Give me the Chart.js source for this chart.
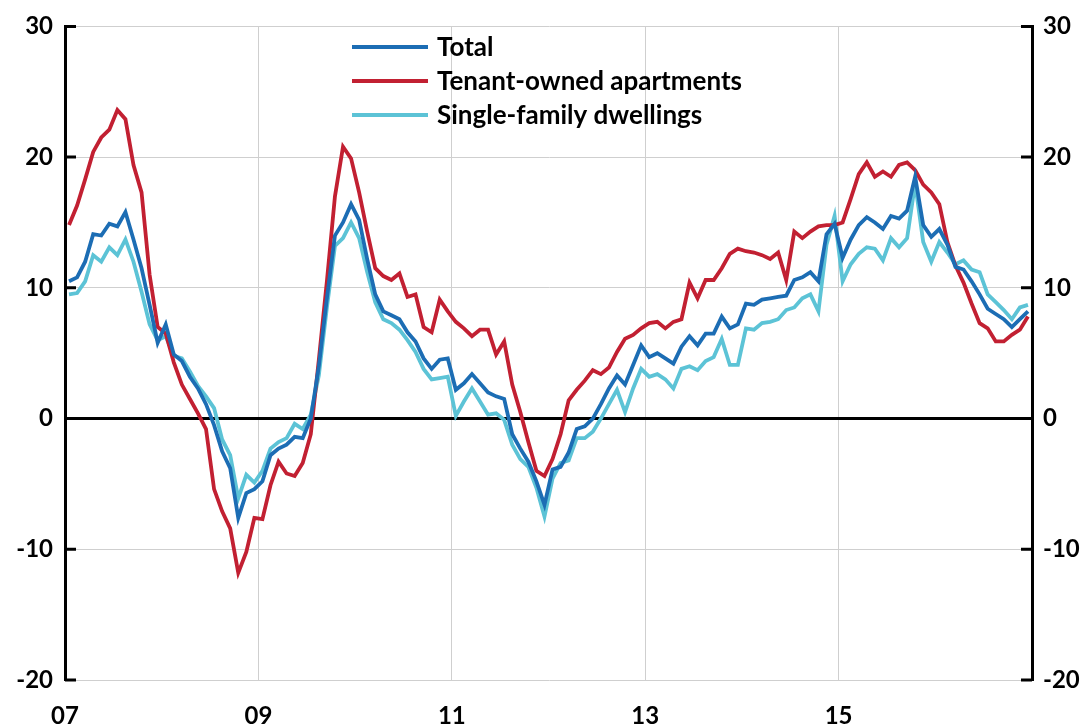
<!DOCTYPE html>
<html>
<head>
<meta charset="utf-8">
<script src="https://cdn.jsdelivr.net/npm/chart.js@4"></script>
<style>
  html, body { margin: 0; padding: 0; background: #fff; }
  #wrap { width: 1084px; height: 728px; }
</style>
</head>
<body>
<div id="wrap"><canvas id="chart" width="1084" height="728"></canvas></div>
<script>
// x-axis tick labels (every second year, Jan 2007 - Dec 2016 monthly data)
const tickLabels = ["07", "09", "11", "13", "15"];
const seriesNames = ["Total", "Tenant-owned apartments", "Single-family dwellings"];

// monthly values, one row per year
const total = [
    10.5, 10.8, 12.0, 14.1, 14.0, 14.9, 14.7, 15.8, 13.7, 11.5, 8.7, 5.8,
    7.2, 4.9, 4.4, 3.2, 2.3, 1.1, -0.5, -2.5, -3.8, -7.6, -5.7, -5.4,
    -4.8, -2.8, -2.3, -2.0, -1.4, -1.5, 0.0, 4.0, 9.2, 14.0, 15.0, 16.4,
    15.2, 12.2, 9.5, 8.2, 7.9, 7.6, 6.6, 5.9, 4.6, 3.8, 4.5, 4.6,
    2.2, 2.7, 3.4, 2.7, 2.0, 1.7, 1.5, -1.2, -2.3, -3.3, -4.8, -6.6,
    -3.9, -3.7, -2.6, -0.8, -0.6, 0.0, 1.1, 2.3, 3.3, 2.6, 4.1, 5.6,
    4.7, 5.0, 4.6, 4.2, 5.5, 6.3, 5.6, 6.5, 6.5, 7.8, 6.9, 7.2,
    8.8, 8.7, 9.1, 9.2, 9.3, 9.4, 10.6, 10.8, 11.2, 10.5, 14.1, 14.9,
    12.3, 13.7, 14.8, 15.4, 15.0, 14.5, 15.5, 15.3, 15.9, 18.5, 14.8, 13.9,
    14.5, 13.3, 11.6, 11.4, 10.5, 9.5, 8.4, 8.0, 7.6, 7.0, 7.6, 8.2
];
const tenantOwned = [
    14.8, 16.3, 18.3, 20.4, 21.5, 22.1, 23.6, 22.9, 19.4, 17.3, 11.0, 7.0,
    6.5, 4.3, 2.6, 1.5, 0.4, -0.8, -5.4, -7.1, -8.4, -11.8, -10.2, -7.6,
    -7.7, -5.1, -3.3, -4.2, -4.4, -3.4, -1.2, 4.5, 10.5, 17.0, 20.8, 19.9,
    17.3, 14.3, 11.5, 10.9, 10.6, 11.1, 9.3, 9.5, 7.0, 6.6, 9.1, 8.2,
    7.4, 6.9, 6.3, 6.8, 6.8, 4.9, 5.9, 2.6, 0.5, -1.8, -4.0, -4.4,
    -3.1, -1.2, 1.4, 2.2, 2.9, 3.7, 3.4, 3.9, 5.1, 6.1, 6.4, 6.9,
    7.3, 7.4, 6.9, 7.4, 7.6, 10.4, 9.2, 10.6, 10.6, 11.5, 12.6, 13.0,
    12.8, 12.7, 12.5, 12.2, 12.7, 10.6, 14.3, 13.8, 14.3, 14.7, 14.8, 14.8,
    15.0, 16.8, 18.7, 19.6, 18.5, 18.9, 18.5, 19.4, 19.6, 19.0, 17.9, 17.3,
    16.4, 13.5, 11.7, 10.4, 8.8, 7.3, 6.9, 5.9, 5.9, 6.4, 6.8, 7.8
];
const singleFamily = [
    9.5, 9.6, 10.5, 12.5, 12.0, 13.1, 12.5, 13.7, 12.0, 9.7, 7.2, 6.0,
    6.3, 4.8, 4.6, 3.6, 2.5, 1.7, 0.8, -1.6, -2.8, -6.1, -4.3, -4.9,
    -4.0, -2.3, -1.8, -1.5, -0.4, -0.8, 0.3, 3.3, 8.5, 13.2, 13.8, 15.0,
    13.8, 11.2, 8.9, 7.6, 7.3, 6.8, 6.0, 5.1, 3.8, 3.0, 3.1, 3.2,
    0.2, 1.3, 2.3, 1.3, 0.3, 0.4, -0.1, -2.0, -3.1, -3.7, -5.3, -7.5,
    -4.6, -3.4, -3.2, -1.5, -1.5, -1.0, 0.0, 1.1, 2.2, 0.5, 2.3, 3.8,
    3.2, 3.4, 3.0, 2.3, 3.8, 4.0, 3.7, 4.4, 4.7, 6.1, 4.1, 4.1,
    6.9, 6.8, 7.3, 7.4, 7.6, 8.3, 8.5, 9.2, 9.5, 8.2, 13.3, 15.5,
    10.5, 11.8, 12.6, 13.1, 13.0, 12.1, 13.8, 13.1, 13.8, 18.0, 13.5, 12.0,
    13.5, 12.7, 11.8, 12.1, 11.4, 11.2, 9.5, 8.9, 8.3, 7.6, 8.5, 8.7
];

const colors = ["#1c6db4", "#c22032", "#5cc3d6"];
const fontFamily = "Lato, 'Open Sans', sans-serif";
const tickFont = { family: fontFamily, size: 24, weight: "bold" };

function toPoints(values) {
    // monthly points sit in the middle of each month slot
    return values.map((v, i) => ({ x: i + 0.5, y: v }));
}

// legend drawn inside the plot, stacked vertically
const insideLegend = {
    id: "insideLegend",
    afterDraw(chart) {
        const ctx = chart.ctx;
        ctx.save();
        ctx.font = "bold 26px " + fontFamily;
        ctx.textBaseline = "middle";
        chart.data.datasets.forEach((ds, i) => {
            const y = 47 + i * 34;
            ctx.strokeStyle = ds.borderColor;
            ctx.lineWidth = 4;
            ctx.beginPath();
            ctx.moveTo(352, y);
            ctx.lineTo(428, y);
            ctx.stroke();
            ctx.fillStyle = "#000";
            ctx.fillText(ds.label, 437, y + 1);
        });
        ctx.restore();
    }
};

// short tick marks pointing into the plot on both y axes
const innerTicks = {
    id: "innerTicks",
    afterDraw(chart) {
        const ctx = chart.ctx;
        const area = chart.chartArea;
        const yScale = chart.scales.y;
        ctx.save();
        ctx.strokeStyle = "#000";
        ctx.lineWidth = 3;
        yScale.ticks.forEach((t) => {
            const y = yScale.getPixelForValue(t.value);
            ctx.beginPath();
            ctx.moveTo(area.left, y);
            ctx.lineTo(area.left + 11, y);
            ctx.moveTo(area.right, y);
            ctx.lineTo(area.right - 11, y);
            ctx.stroke();
        });
        ctx.restore();
    }
};

const ctx = document.getElementById("chart").getContext("2d");
new Chart(ctx, {
    type: "line",
    data: {
        datasets: [
            { label: seriesNames[0], data: toPoints(total), borderColor: colors[0] },
            { label: seriesNames[1], data: toPoints(tenantOwned), borderColor: colors[1] },
            { label: seriesNames[2], data: toPoints(singleFamily), borderColor: colors[2] }
        ]
    },
    options: {
        responsive: false,
        animation: false,
        layout: { padding: { top: 24, left: 0, right: 0, bottom: 0 } },
        elements: {
            line: { borderWidth: 3.8, tension: 0, fill: false },
            point: { radius: 0 }
        },
        plugins: {
            legend: { display: false },
            tooltip: { enabled: false }
        },
        scales: {
            x: {
                type: "linear",
                min: 0,
                max: 120,
                afterFit: (s) => { s.height = 48; },
                afterBuildTicks: (s) => {
                    s.ticks = [0, 24, 48, 72, 96, 120].map((v) => ({ value: v }));
                },
                ticks: {
                    font: tickFont,
                    color: "#000",
                    padding: 22,
                    maxRotation: 0,
                    autoSkip: false,
                    callback: (v) => tickLabels[v / 24] || ""
                },
                grid: { color: "#cfcfcf", lineWidth: 1, drawTicks: false },
                border: { display: false }
            },
            y: {
                position: "left",
                min: -20,
                max: 30,
                afterFit: (s) => { s.width = 65; },
                ticks: { stepSize: 10, font: tickFont, color: "#000", padding: 12 },
                grid: {
                    color: (c) => (c.tick && c.tick.value === 0 ? "#000" : "#cfcfcf"),
                    lineWidth: (c) => (c.tick && c.tick.value === 0 ? 3 : 1),
                    drawTicks: false
                },
                border: { color: "#000", width: 3 }
            },
            y2: {
                position: "right",
                min: -20,
                max: 30,
                afterFit: (s) => { s.width = 52; },
                ticks: { stepSize: 10, font: tickFont, color: "#000", padding: 11 },
                grid: { display: false, drawTicks: false },
                border: { color: "#000", width: 3 }
            }
        }
    },
    plugins: [innerTicks, insideLegend]
});
</script>
</body>
</html>
